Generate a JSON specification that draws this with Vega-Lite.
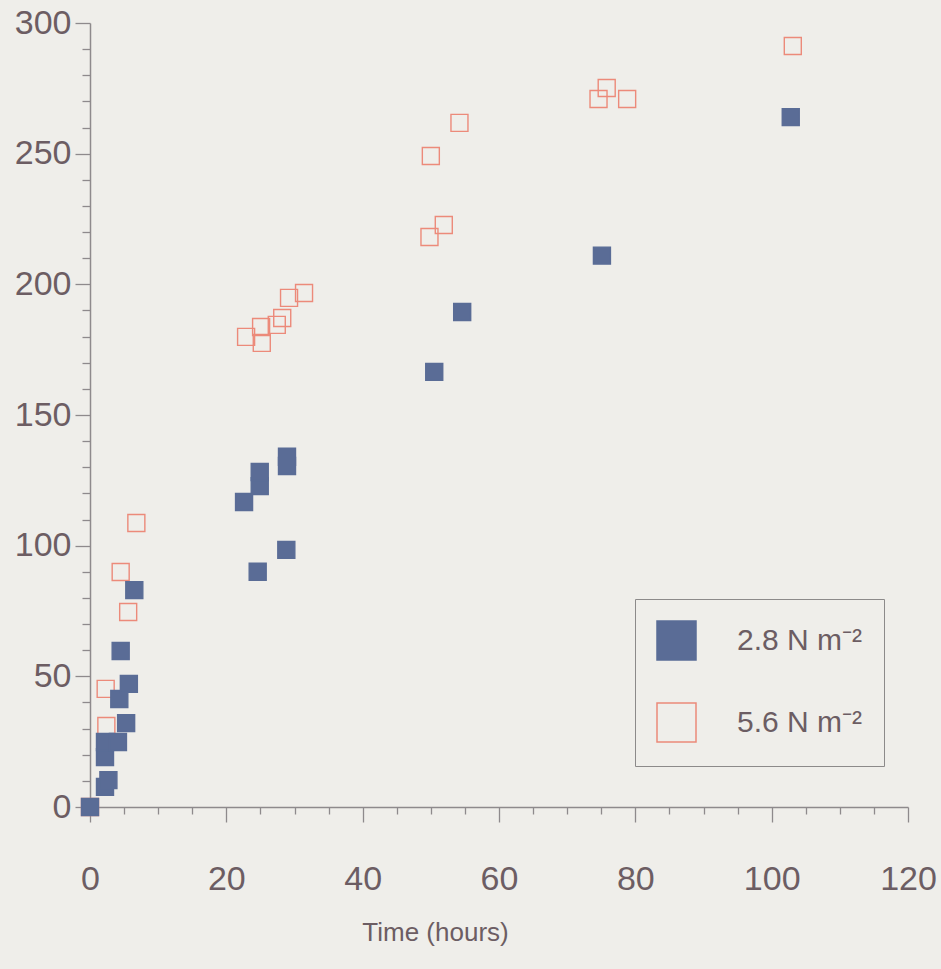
{
  "$schema": "https://vega.github.io/schema/vega-lite/v6.json",
  "width": 818,
  "height": 784,
  "autosize": {"type": "none"},
  "padding": {"left": 90, "top": 23, "right": 33, "bottom": 162},
  "background": "#efeeea",
  "config": {
    "view": {"stroke": null},
    "font": "Liberation Sans",
    "axis": {
      "domainColor": "#8e8a8c",
      "domainWidth": 1.5,
      "tickColor": "#8e8a8c",
      "tickWidth": 1.3,
      "labelFont": "Liberation Sans",
      "labelFontSize": 34,
      "labelColor": "#6c5d63",
      "grid": false,
      "titleFont": "Liberation Sans",
      "titleFontWeight": "normal",
      "titleColor": "#6c5d63"
    }
  },
  "data": {
    "values": [
      {"series": "5.6 N m⁻²", "time": 0, "value": 0},
      {"series": "5.6 N m⁻²", "time": 2.4, "value": 31},
      {"series": "5.6 N m⁻²", "time": 2.3, "value": 45.2},
      {"series": "5.6 N m⁻²", "time": 5.6, "value": 74.6},
      {"series": "5.6 N m⁻²", "time": 4.5, "value": 89.9},
      {"series": "5.6 N m⁻²", "time": 6.8, "value": 108.7},
      {"series": "5.6 N m⁻²", "time": 22.9, "value": 179.9},
      {"series": "5.6 N m⁻²", "time": 25.2, "value": 177.6},
      {"series": "5.6 N m⁻²", "time": 25.1, "value": 183.7},
      {"series": "5.6 N m⁻²", "time": 27.4, "value": 184.5},
      {"series": "5.6 N m⁻²", "time": 28.2, "value": 187.1},
      {"series": "5.6 N m⁻²", "time": 29.2, "value": 194.8},
      {"series": "5.6 N m⁻²", "time": 31.4, "value": 196.7},
      {"series": "5.6 N m⁻²", "time": 49.8, "value": 218.1},
      {"series": "5.6 N m⁻²", "time": 51.9, "value": 222.7},
      {"series": "5.6 N m⁻²", "time": 50.0, "value": 249.1},
      {"series": "5.6 N m⁻²", "time": 54.2, "value": 261.8},
      {"series": "5.6 N m⁻²", "time": 74.6, "value": 270.9},
      {"series": "5.6 N m⁻²", "time": 75.8, "value": 275.1},
      {"series": "5.6 N m⁻²", "time": 78.8, "value": 270.9},
      {"series": "5.6 N m⁻²", "time": 103.1, "value": 291.2},
      {"series": "2.8 N m⁻²", "time": 0, "value": 0},
      {"series": "2.8 N m⁻²", "time": 2.2, "value": 7.7},
      {"series": "2.8 N m⁻²", "time": 2.7, "value": 10.3},
      {"series": "2.8 N m⁻²", "time": 2.2, "value": 19.1},
      {"series": "2.8 N m⁻²", "time": 2.2, "value": 24.9},
      {"series": "2.8 N m⁻²", "time": 4.1, "value": 24.9},
      {"series": "2.8 N m⁻²", "time": 5.3, "value": 32.1},
      {"series": "2.8 N m⁻²", "time": 4.3, "value": 41.3},
      {"series": "2.8 N m⁻²", "time": 5.7, "value": 47.1},
      {"series": "2.8 N m⁻²", "time": 4.5, "value": 59.7},
      {"series": "2.8 N m⁻²", "time": 6.5, "value": 83},
      {"series": "2.8 N m⁻²", "time": 22.6, "value": 116.7},
      {"series": "2.8 N m⁻²", "time": 24.9, "value": 122.8},
      {"series": "2.8 N m⁻²", "time": 24.9, "value": 128.2},
      {"series": "2.8 N m⁻²", "time": 24.6, "value": 90},
      {"series": "2.8 N m⁻²", "time": 28.8, "value": 98.4},
      {"series": "2.8 N m⁻²", "time": 28.9, "value": 130.5},
      {"series": "2.8 N m⁻²", "time": 28.9, "value": 134},
      {"series": "2.8 N m⁻²", "time": 50.5, "value": 166.5},
      {"series": "2.8 N m⁻²", "time": 54.6, "value": 189.4},
      {"series": "2.8 N m⁻²", "time": 75.1, "value": 211},
      {"series": "2.8 N m⁻²", "time": 102.8, "value": 264}
    ]
  },
  "mark": {"type": "point", "shape": "square", "size": 289, "strokeWidth": 1.4, "opacity": 1},
  "encoding": {
    "x": {
      "field": "time",
      "type": "quantitative",
      "scale": {"domain": [0, 120], "nice": false, "zero": false},
      "axis": {
        "values": [0,5,10,15,20,25,30,35,40,45,50,55,60,65,70,75,80,85,90,95,100,105,110,115,120],
        "labelExpr": "datum.value % 20 === 0 ? datum.label : ''",
        "tickSize": {"condition": {"test": "datum.value % 20 === 0", "value": 15}, "value": 7},
        "labelPadding": 40,
        "labelFlush": false,
        "labelOverlap": false,
        "title": "Time (hours)",
        "titleFontSize": 26,
        "titleX": 345,
        "titleY": 125,
        "titleAlign": "center",
        "titleBaseline": "middle"
      }
    },
    "y": {
      "field": "value",
      "type": "quantitative",
      "scale": {"domain": [0, 300], "nice": false},
      "axis": {
        "values": [0,10,20,30,40,50,60,70,80,90,100,110,120,130,140,150,160,170,180,190,200,210,220,230,240,250,260,270,280,290,300],
        "labelExpr": "datum.value % 50 === 0 ? datum.label : ''",
        "tickSize": {"condition": {"test": "datum.value % 50 === 0", "value": 15}, "value": 8},
        "labelPadding": 4,
        "labelFlush": false,
        "labelOverlap": false,
        "title": null
      }
    },
    "fill": {
      "field": "series",
      "type": "nominal",
      "scale": {"domain": ["2.8 N m⁻²", "5.6 N m⁻²"], "range": ["#5a6c96", "rgba(0,0,0,0)"]},
      "legend": {
        "title": null,
        "orient": "none",
        "legendX": 545,
        "legendY": 576,
        "padding": 21,
        "strokeColor": "#8c8a8a",
        "symbolType": "square",
        "symbolSize": 1521,
        "symbolStrokeWidth": 1.5,
        "labelFontSize": 30,
        "labelColor": "#6c5d63",
        "labelOffset": 40,
        "labelLimit": 400,
        "rowPadding": 37,
        "labelExpr": "datum.label + '\u00a0\u00a0\u00a0\u00a0\u00a0\u00a0'"
      }
    },
    "stroke": {
      "field": "series",
      "type": "nominal",
      "scale": {"domain": ["2.8 N m⁻²", "5.6 N m⁻²"], "range": ["#5a6c96", "#ec8a7a"]},
      "legend": {
        "title": null,
        "orient": "none",
        "legendX": 545,
        "legendY": 576,
        "padding": 21,
        "strokeColor": "#8c8a8a",
        "symbolType": "square",
        "symbolSize": 1521,
        "symbolStrokeWidth": 1.5,
        "labelFontSize": 30,
        "labelColor": "#6c5d63",
        "labelOffset": 40,
        "labelLimit": 400,
        "rowPadding": 37,
        "labelExpr": "datum.label + '\u00a0\u00a0\u00a0\u00a0\u00a0\u00a0'"
      }
    }
  }
}
